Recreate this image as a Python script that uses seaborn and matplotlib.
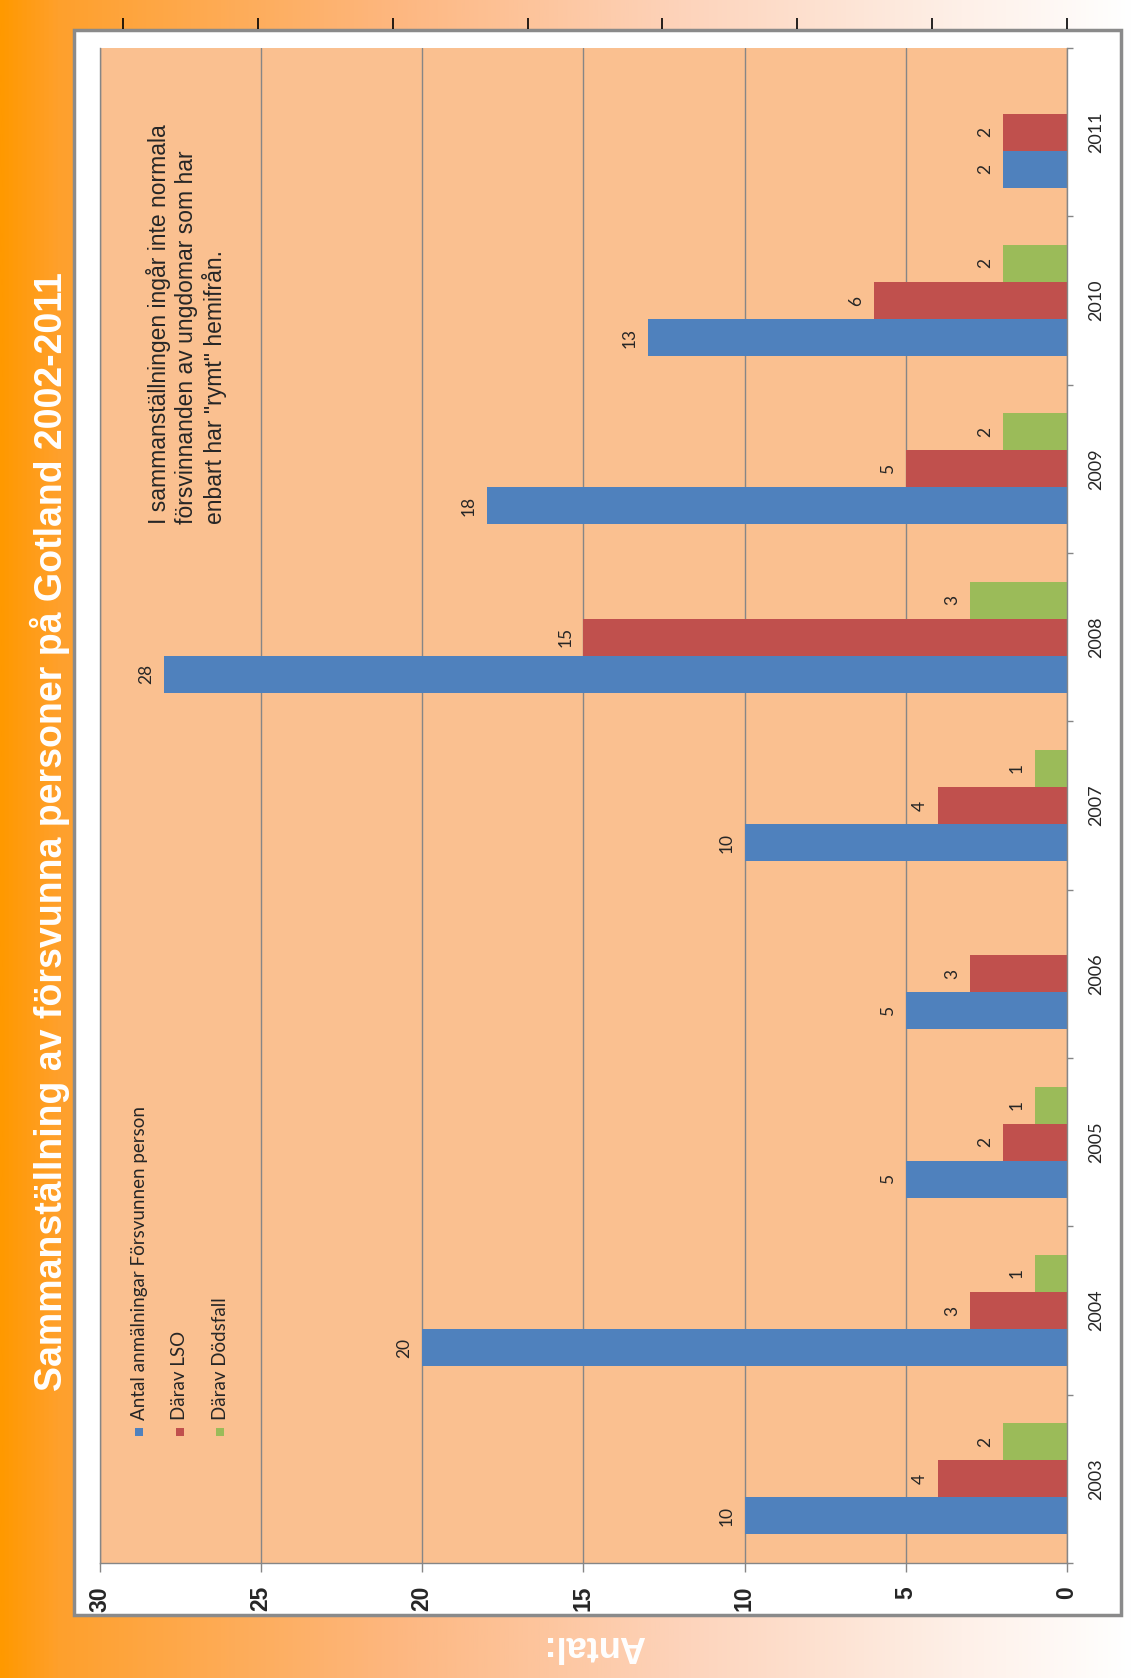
import numpy as np
import pandas as pd
import matplotlib.pyplot as plt
import seaborn as sns
from matplotlib.colors import LinearSegmentedColormap
from matplotlib.patches import Rectangle

# data
years = ['2003', '2004', '2005', '2006', '2007', '2008', '2009', '2010', '2011']
antal = [10, 20, 5, 5, 10, 28, 18, 13, 2]
lso = [4, 3, 2, 3, 4, 15, 5, 6, 2]
dodsfall = [2, 1, 1, np.nan, 1, 3, 2, 2, np.nan]
series_names = ['Antal anmälningar Försvunnen person', 'Därav LSO', 'Därav Dödsfall']
colors = ['#4F81BD', '#C0504D', '#9BBB59']
value_ticks = [0, 5, 10, 15, 20, 25, 30]

title = 'Sammanställning av försvunna personer på Gotland 2002-2011'
note = ('I sammanställningen ingår inte normala\n'
        'försvinnanden av ungdomar som har\n'
        'enbart har "rymt" hemifrån.')

df = pd.DataFrame({'year': years,
                   series_names[0]: antal,
                   series_names[1]: lso,
                   series_names[2]: dodsfall})
df = df.melt(id_vars='year', var_name='series', value_name='value').dropna()

sns.set_theme(style='white')
plt.rcParams['font.family'] = ['Lato', 'DejaVu Sans']
arial = ['Liberation Sans', 'DejaVu Sans']

W, H = 1134, 1678
fig = plt.figure(figsize=(W / 100, H / 100), dpi=100)


def fx(px):
    return px / W


def fy(py):
    return 1 - py / H


# orange -> white page background
bg = fig.add_axes([0, 0, 1, 1], zorder=-10)
cmap = LinearSegmentedColormap.from_list(
    'bg', [(0.0, '#FF9900'), (0.05, '#FFA02C'), (0.35, '#FDB780'),
           (0.6, '#FDD3BA'), (0.85, '#FEF0E8'), (1.0, '#FFFFFF')])
bg.imshow(np.linspace(0, 1, 512)[None, :], cmap=cmap, aspect='auto', extent=[0, 1, 0, 1])
bg.axis('off')

# white chart frame
fig.add_artist(Rectangle((fx(74), fy(1615)), fx(1121) - fx(74), fy(30) - fy(1615),
                         transform=fig.transFigure, facecolor='white',
                         edgecolor='#8a8a8a', lw=2.5, zorder=-5))

# stray ticks above the frame
tk = fig.add_axes([fx(123), fy(30), fx(1067) - fx(123), 0.0005], zorder=-4)
tk.set_xlim(0, 7)
tk.set_xticks(range(8))
tk.set_yticks([])
tk.tick_params(axis='x', top=True, bottom=False, direction='out', length=8,
               color='black', width=1.2, labeltop=False, labelbottom=False)
for s in tk.spines.values():
    s.set_visible(False)
tk.patch.set_alpha(0)

# main plot (drawn as horizontal bars, value axis reversed)
ax = fig.add_axes([fx(99.5), fy(1563), fx(1067) - fx(99.5), fy(48) - fy(1563)])
ax.set_facecolor('#FAC090')
sns.barplot(data=df, x='value', y='year', hue='series', order=years[::-1],
            hue_order=series_names[::-1], palette=dict(zip(series_names, colors)),
            width=0.66, saturation=1, errorbar=None, orient='h', legend=False,
            edgecolor='none', linewidth=0, ax=ax)
ax.set_xlim(30, 0)
ax.set_ylim(8.5, -0.5)
ax.set_xlabel('')
ax.set_ylabel('')

ax.set_xticks(value_ticks)
ax.set_xticklabels([str(v) for v in value_ticks], rotation=90, fontsize=16.5,
                   fontweight='bold', family=arial)
ax.tick_params(axis='x', bottom=True, length=6.5, width=1, color='#868686', pad=10,
               direction='out')
ax.grid(axis='x', color='#868686', lw=1)
ax.grid(axis='y', visible=False)
ax.set_axisbelow(True)
for side in ['left', 'right', 'bottom']:
    ax.spines[side].set_color('#868686')
    ax.spines[side].set_linewidth(1)
ax.spines['top'].set_visible(False)

ax.yaxis.set_ticks_position('right')
ax.set_yticks(np.arange(-0.5, 9, 1), minor=True)
ax.tick_params(axis='y', which='major', length=0, pad=15, labelsize=13)
ax.tick_params(axis='y', which='minor', right=True, left=False, length=4.5, width=1,
               color='#868686', direction='out')
for lab in ax.get_yticklabels():
    lab.set_rotation(90)
    lab.set_va('center')

for c in ax.containers:
    ax.bar_label(c, fmt='%g', rotation=90, padding=7, fontsize=12.5)

# legend, drawn by hand since the text is rotated
for i, (name, color) in enumerate(zip(series_names, colors)):
    x = 139 + 40.5 * i
    fig.add_artist(Rectangle((fx(x - 4), fy(1436)), 8 / W, 8 / H,
                             transform=fig.transFigure, facecolor=color,
                             edgecolor='none'))
    fig.text(fx(x), fy(1420), name, rotation=90, ha='center', va='bottom',
             fontsize=13.5)

fig.text(fx(146), fy(524), note, rotation=90, ha='left', va='bottom',
         multialignment='left', fontsize=16.5, family=arial)

fig.text(fx(50), fy(832), title, rotation=90, ha='center', va='center',
         color='white', fontweight='bold', fontsize=27, family=arial)
fig.text(fx(594), fy(1646), 'Antal:', rotation=180, ha='center', va='center',
         color='white', fontweight='bold', fontsize=26, family=arial)

fig.savefig('out.png', dpi=100)
